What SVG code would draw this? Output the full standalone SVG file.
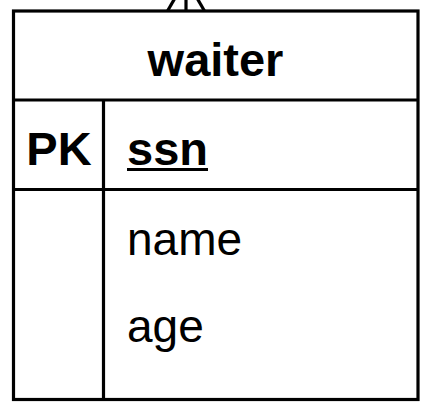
<svg xmlns="http://www.w3.org/2000/svg" width="428" height="413" viewBox="0 0 428 413">
<style>
.ln{stroke:#000;stroke-width:3.2;fill:none}
.b{font-family:"Liberation Sans",Arial,sans-serif;font-weight:bold;font-size:47px;fill:#000}
.r{font-family:"Liberation Sans",Arial,sans-serif;font-size:46px;fill:#000}
</style>
<rect width="428" height="413" fill="#fff"/>
<g id="connectors">
<line class="ln" x1="186" y1="11" x2="186" y2="-5"/>
<line class="ln" x1="167.5" y1="11" x2="186" y2="-21"/>
<line class="ln" x1="204.5" y1="11" x2="186" y2="-21"/>
</g>
<g id="waiter">
<rect class="ln" x="13.5" y="11" width="404.5" height="388.5"/>
<line class="ln" x1="13.5" y1="100" x2="418" y2="100"/>
<line class="ln" x1="13.5" y1="189.5" x2="418" y2="189.5"/>
<line class="ln" x1="103.5" y1="100" x2="103.5" y2="399.5"/>
<text class="b" x="215.5" y="76" text-anchor="middle">waiter</text>
<text class="b" x="59" y="165" text-anchor="middle">PK</text>
<text class="b" x="127" y="165">ssn</text>
<line x1="127" y1="169.5" x2="208" y2="169.5" stroke="#000" stroke-width="3.2"/>
<text class="r" x="127" y="255">name</text>
<text class="r" x="127" y="342">age</text>
</g>
</svg>
